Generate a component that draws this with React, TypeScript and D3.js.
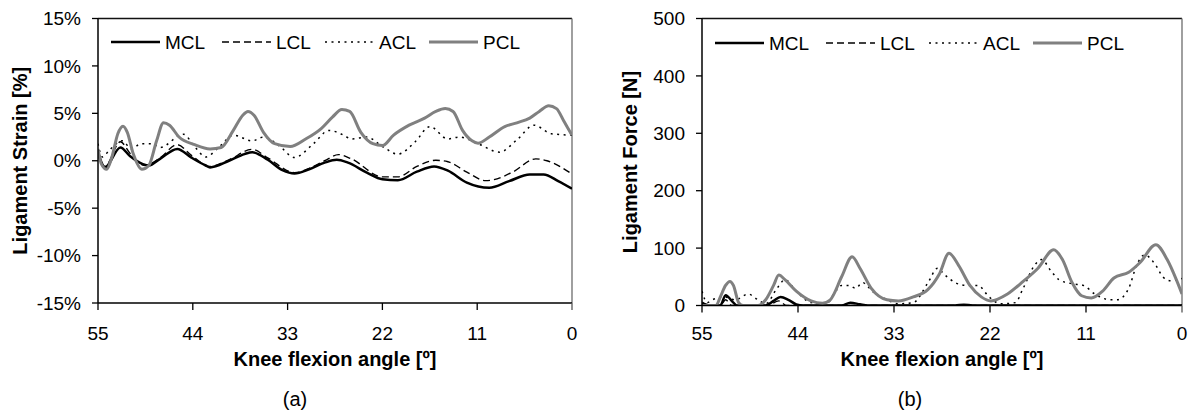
import React from 'react';
import * as d3 from 'd3';

const W = 1193;
const H = 415;
const FONT = "Arial, 'Liberation Sans', Helvetica, sans-serif";

// ---- axis ticks / categories ----
const angleTicks = [55, 44, 33, 22, 11, 0];
const strainTicks = [-15, -10, -5, 0, 5, 10, 15];
const forceTicks = [0, 100, 200, 300, 400, 500];
const seriesNames = ['MCL', 'LCL', 'ACL', 'PCL'];

// ---- (a) ligament strain [%] vs knee flexion angle [deg] ----
const mclStrain: [number, number][] = [[55,0.9],[54.2,-0.7],[52.4,1.4],[51.3,0.5],[49.8,-0.35],[49.1,-0.5],[47.8,0.2],[45.8,1.25],[44.2,0.35],[42.5,-0.5],[42.0,-0.7],[39.8,0],[38.0,0.7],[37.1,0.9],[35.3,0.1],[33.6,-1.0],[32.2,-1.35],[30.5,-0.9],[28.7,-0.2],[27.3,0.1],[26.0,-0.2],[23.8,-1.25],[22.0,-1.95],[20.2,-2.05],[18.0,-1.15],[16.0,-0.6],[14.4,-1.05],[12.2,-2.3],[9.6,-2.85],[7.3,-2.15],[4.9,-1.45],[3.3,-1.45],[1.6,-2.15],[0,-2.95]];
const lclStrain: [number, number][] = [[55,0.9],[54.2,-0.6],[52.4,2.0],[51.3,0.8],[49.6,-0.5],[47.8,0.3],[45.8,1.7],[44.2,0.6],[42.0,-0.6],[39.8,0.1],[37.1,1.2],[35.3,0.3],[32.2,-1.25],[30.5,-0.8],[28.7,0.0],[27.1,0.65],[25.6,0.2],[22.0,-1.7],[20.2,-1.7],[18.0,-0.6],[15.8,0.05],[14.4,-0.1],[12.2,-1.2],[10.0,-2.1],[9.1,-2.0],[6.9,-1.2],[4.2,0.2],[2.9,0.0],[0,-1.4]];
const aclStrain: [number, number][] = [[55,1.8],[54.5,0.4],[53.6,1.2],[52.2,2.1],[51.1,1.25],[50.0,1.8],[48.7,1.8],[47.8,1.4],[45.1,2.8],[43.8,1.5],[42.5,0.4],[40.9,1.5],[39.3,2.7],[37.1,2.1],[35.8,2.5],[34.0,1.6],[32.2,0.35],[30.0,1.8],[28.2,3.2],[26.5,2.7],[25.6,2.3],[23.8,2.5],[22.0,1.5],[20.2,0.7],[18.2,2.0],[16.5,3.6],[14.4,2.3],[13.1,2.5],[10.9,1.8],[8.4,0.9],[6.4,2.2],[4.4,3.75],[2.4,2.85],[0,2.7]];
const pclStrain: [number, number][] = [[55,1.25],[54.6,-0.35],[54.0,-0.9],[53.4,0.35],[52.7,2.85],[52.1,3.65],[51.6,3.0],[50.9,0.7],[49.9,-0.9],[49.1,-0.5],[48.2,2.1],[47.4,4.0],[46.7,3.75],[45.6,2.5],[43.8,1.7],[42.0,1.25],[40.7,1.4],[39.3,3.2],[38.2,4.8],[37.6,5.2],[36.9,4.8],[35.8,3.0],[34.5,1.8],[32.7,1.5],[30.9,2.3],[29.1,3.4],[27.8,4.6],[26.7,5.4],[25.8,5.2],[24.5,3.0],[23.1,1.8],[22.0,1.6],[20.7,2.7],[18.9,3.75],[17.1,4.5],[15.8,5.2],[14.7,5.5],[13.8,5.2],[12.7,3.2],[11.6,2.1],[10.9,1.85],[9.6,2.5],[7.8,3.6],[6.4,4.0],[4.9,4.5],[3.8,5.2],[2.7,5.8],[1.8,5.5],[0.9,4.1],[0,2.7]];

// ---- (b) ligament force [N] vs knee flexion angle [deg] ----
const mclForce: [number, number][] = [[55,5],[54.2,0],[52.9,0],[52.3,18],[51.4,5],[51.0,0],[47.7,0],[46.8,8],[46.0,15],[45.1,10],[44.2,2],[43.4,0],[39.0,0],[38.0,5],[36.9,2],[36.0,0],[26,0],[25,1.5],[24,0],[0,0]];
const lclForce: [number, number][] = [[55,3],[53.5,0],[52.9,0],[52.3,10],[51.6,0],[47.5,0],[46.2,8],[45.3,0],[0,0]];
const aclForce: [number, number][] = [[55,25],[54.4,5],[53.8,10],[52.5,15],[51.2,10],[49.7,20],[48.6,10],[47.7,3],[46.4,30],[45.5,45],[44.2,25],[42.5,5],[40.7,3],[39.9,20],[39.0,35],[38.2,35],[37.4,30],[36.6,40],[35.5,25],[33.8,10],[32.5,3],[30.8,5],[29.1,40],[28.0,65],[27.3,55],[26.0,40],[24.7,35],[23.4,35],[22.1,15],[20.8,3],[19.1,5],[18.2,30],[16.9,70],[16.1,80],[15.0,60],[14.1,45],[12.6,38],[11.3,35],[10.0,20],[8.2,10],[7.4,10],[6.1,30],[5.2,70],[4.3,88],[3.0,70],[2.2,50],[1.3,43],[0,47]];
const pclForce: [number, number][] = [[55,0],[53.4,0],[52.9,15],[52.3,35],[51.8,42],[51.4,35],[50.8,5],[50.3,0],[48.6,0],[47.7,10],[46.8,35],[46.2,53],[45.5,45],[44.2,25],[42.5,8],[41.2,4],[40.3,10],[39.0,50],[37.8,85],[36.9,65],[35.6,30],[33.8,10],[32.5,8],[30.8,15],[29.1,28],[27.8,55],[26.7,91],[25.6,70],[24.3,35],[23.0,15],[21.9,8],[20.0,20],[18.2,42],[16.5,65],[14.7,97],[13.7,80],[12.6,40],[11.5,17],[10.4,13],[9.1,25],[7.8,48],[6.1,58],[4.8,75],[3.0,106],[1.7,80],[0.65,45],[0,20]];

type Style = { stroke: string; width: number; dash?: string };
const STYLES: Record<string, Style> = {
  MCL: { stroke: '#000000', width: 2.5 },
  LCL: { stroke: '#000000', width: 1.4, dash: '7,4' },
  ACL: { stroke: '#000000', width: 1.5, dash: '2,4.5' },
  PCL: { stroke: '#808080', width: 3 },
};
const LEGEND_OFFSETS = [0, 111, 214, 318];

interface PanelProps {
  id: string;
  x0: number; x1: number; y0: number; y1: number;
  yDomain: [number, number];
  yTicks: number[];
  fmt: (v: number) => string;
  series: Record<string, [number, number][]>;
  yTitle: string;
  yTitleX: number;
  label: string;
  labelX: number;
  legendX: number;
  legendY: number;
}

function Panel(p: PanelProps) {
  const x = d3.scaleLinear().domain([55, 0]).range([p.x0, p.x1]);
  const y = d3.scaleLinear().domain(p.yDomain).range([p.y1, p.y0]);
  const line = d3
    .line<[number, number]>()
    .x((d) => x(d[0]))
    .y((d) => y(d[1]))
    .curve(d3.curveMonotoneX);
  const midX = (p.x0 + p.x1) / 2;
  const midY = (p.y0 + p.y1) / 2;
  return (
    <g>
      <defs>
        <clipPath id={`clip-${p.id}`}>
          <rect x={p.x0} y={p.y0 - 2} width={p.x1 - p.x0} height={p.y1 - p.y0 + 2} />
        </clipPath>
      </defs>
      {/* plot frame */}
      <line x1={p.x0} x2={p.x1} y1={p.y0} y2={p.y0} stroke="#111" strokeWidth={1.3} />
      <line x1={p.x1} x2={p.x1} y1={p.y0} y2={p.y1} stroke="#777" strokeWidth={1.4} />
      {/* series */}
      <g clipPath={`url(#clip-${p.id})`}>
        {seriesNames.map((n) => (
          <path
            key={n}
            d={line(p.series[n]) || ''}
            fill="none"
            stroke={STYLES[n].stroke}
            strokeWidth={STYLES[n].width}
            strokeDasharray={STYLES[n].dash}
            strokeLinejoin="round"
          />
        ))}
      </g>
      {/* axes */}
      <line x1={p.x0} x2={p.x0} y1={p.y0} y2={p.y1} stroke="#000" strokeWidth={1.5} />
      <line x1={p.x0} x2={p.x1} y1={p.y1} y2={p.y1} stroke="#000" strokeWidth={1.5} />
      {p.yTicks.map((t) => (
        <g key={`y${t}`}>
          <line x1={p.x0 - 6} x2={p.x0} y1={y(t)} y2={y(t)} stroke="#000" strokeWidth={1.3} />
          <text x={p.x0 - 17} y={y(t)} dy="0.35em" textAnchor="end" fontSize={19} fontFamily={FONT} fill="#000">
            {p.fmt(t)}
          </text>
        </g>
      ))}
      {angleTicks.map((t) => (
        <g key={`x${t}`}>
          <line x1={x(t)} x2={x(t)} y1={p.y1} y2={p.y1 + 7} stroke={t === 0 ? '#555' : '#000'} strokeWidth={1.3} />
          <text x={x(t)} y={340} textAnchor="middle" fontSize={19} fontFamily={FONT} fill="#000">
            {t}
          </text>
        </g>
      ))}
      <text x={midX} y={366} textAnchor="middle" fontSize={20} fontWeight="bold" fontFamily={FONT} fill="#000">
        Knee flexion angle [º]
      </text>
      <text
        transform={`translate(${p.yTitleX},${midY}) rotate(-90)`}
        textAnchor="middle"
        fontSize={20}
        fontWeight="bold"
        fontFamily={FONT}
        fill="#000"
      >
        {p.yTitle}
      </text>
      <text x={p.labelX} y={406} textAnchor="middle" fontSize={20} fontFamily={FONT} fill="#000">
        {p.label}
      </text>
      {/* legend */}
      {seriesNames.map((n, i) => {
        const lx = p.legendX + LEGEND_OFFSETS[i];
        return (
          <g key={`lg${n}`}>
            <line
              x1={lx}
              x2={lx + 49}
              y1={p.legendY}
              y2={p.legendY}
              stroke={STYLES[n].stroke}
              strokeWidth={STYLES[n].width}
              strokeDasharray={STYLES[n].dash}
            />
            <text x={lx + 54} y={p.legendY} dy="0.35em" fontSize={19} fontFamily={FONT} fill="#000">
              {n}
            </text>
          </g>
        );
      })}
    </g>
  );
}

export default function App() {
  return (
    <svg
      width={W}
      height={H}
      viewBox={`0 0 ${W} ${H}`}
      style={{ position: 'absolute', left: 0, top: 0, background: '#fff' }}
    >
      <rect x={0} y={0} width={W} height={H} fill="#fff" />
      <Panel
        id="a"
        x0={98}
        x1={572}
        y0={18.5}
        y1={303}
        yDomain={[-15, 15]}
        yTicks={strainTicks}
        fmt={(v) => `${v}%`}
        series={{ MCL: mclStrain, LCL: lclStrain, ACL: aclStrain, PCL: pclStrain }}
        yTitle="Ligament Strain [%]"
        yTitleX={27}
        label="(a)"
        labelX={295}
        legendX={111}
        legendY={42}
      />
      <Panel
        id="b"
        x0={702}
        x1={1182}
        y0={18.5}
        y1={305.5}
        yDomain={[0, 500]}
        yTicks={forceTicks}
        fmt={(v) => `${v}`}
        series={{ MCL: mclForce, LCL: lclForce, ACL: aclForce, PCL: pclForce }}
        yTitle="Ligament Force [N]"
        yTitleX={637}
        label="(b)"
        labelX={910}
        legendX={715}
        legendY={43}
      />
    </svg>
  );
}
